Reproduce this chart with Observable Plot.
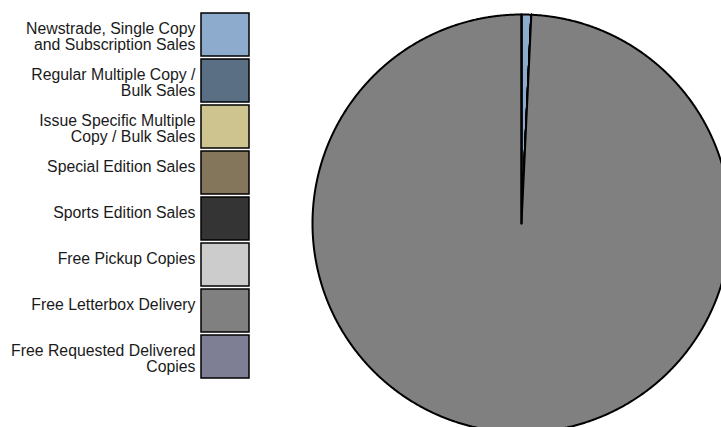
<!DOCTYPE html>
<html>
<head>
<meta charset="utf-8">
<script src="https://cdn.jsdelivr.net/npm/d3@7"></script>
<script src="https://cdn.jsdelivr.net/npm/@observablehq/plot@0.6"></script>
<style>
  html, body { margin: 0; padding: 0; background: #fff; }
  #wrap { display: flex; flex-direction: row; width: 721px; height: 427px; overflow: hidden; }
  #wrap svg { overflow: hidden; }
</style>
</head>
<body>
<div id="wrap"></div>
<script>
// Data
const categories = [
  "Newstrade, Single Copy and Subscription Sales",
  "Regular Multiple Copy / Bulk Sales",
  "Issue Specific Multiple Copy / Bulk Sales",
  "Special Edition Sales",
  "Sports Edition Sales",
  "Free Pickup Copies",
  "Free Letterbox Delivery",
  "Free Requested Delivered Copies"
];
const legendLabels = [
  "Newstrade, Single Copy\nand Subscription Sales",
  "Regular Multiple Copy /\nBulk Sales",
  "Issue Specific Multiple\nCopy / Bulk Sales",
  "Special Edition Sales",
  "Sports Edition Sales",
  "Free Pickup Copies",
  "Free Letterbox Delivery",
  "Free Requested Delivered\nCopies"
];
const shares = [0.75, 0, 0, 0, 0, 0, 99.25, 0];
const colors = ["#8dabcc", "#5a6e84", "#cec48f", "#83765a", "#343434", "#cccccc", "#808080", "#7e7f94"];

const colorScale = {type: "ordinal", domain: categories, range: colors};

// Legend
const legendData = categories.map((c, i) => ({category: c, label: legendLabels[i]}));
const legend = Plot.plot({
  width: 260,
  height: 427,
  margin: 0,
  style: {fontFamily: "'Liberation Sans', Arial, sans-serif", background: "white"},
  x: {type: "band", domain: ["swatch"], range: [201, 249], padding: 0, axis: null},
  y: {type: "band", domain: categories, range: [7.5, 384], padding: 0.06, axis: null},
  color: colorScale,
  marks: [
    Plot.cell(legendData, {x: () => "swatch", y: "category", fill: "category", stroke: "#000", strokeWidth: 1.5}),
    Plot.text(legendData, {
      x: () => "swatch", y: "category", text: "label",
      textAnchor: "end", lineAnchor: "top", dx: -30, dy: -13.5,
      fontSize: 15.8, lineHeight: 1.07, fill: "#1a1a1a"
    })
  ]
});

// Pie
const pie = d3.pie().sort(null).value(d => d.value)(categories.map((c, i) => ({category: c, value: shares[i]})));
const piePoints = [];
pie.forEach(s => {
  const cat = s.data.category;
  piePoints.push({category: cat, x: 0, y: 0});
  const span = s.endAngle - s.startAngle;
  const n = Math.max(1, Math.ceil(span / (Math.PI / 720)));
  for (let k = 0; k <= n; k++) {
    const a = s.startAngle + span * k / n;
    piePoints.push({category: cat, x: Math.sin(a), y: Math.cos(a)});
  }
  piePoints.push({category: cat, x: 0, y: 0});
});

const pieChart = Plot.plot({
  width: 461,
  height: 427,
  margin: 0,
  style: {background: "white"},
  x: {domain: [-1, 1], range: [52, 470], axis: null},
  y: {domain: [-1, 1], range: [432, 14], axis: null},
  color: colorScale,
  marks: [
    Plot.line(piePoints, {x: "x", y: "y", z: "category", fill: "category", stroke: "#000", strokeWidth: 2, strokeLinejoin: "round", curve: "linear"})
  ]
});

const wrap = document.getElementById("wrap");
wrap.appendChild(legend);
wrap.appendChild(pieChart);
</script>
</body>
</html>
